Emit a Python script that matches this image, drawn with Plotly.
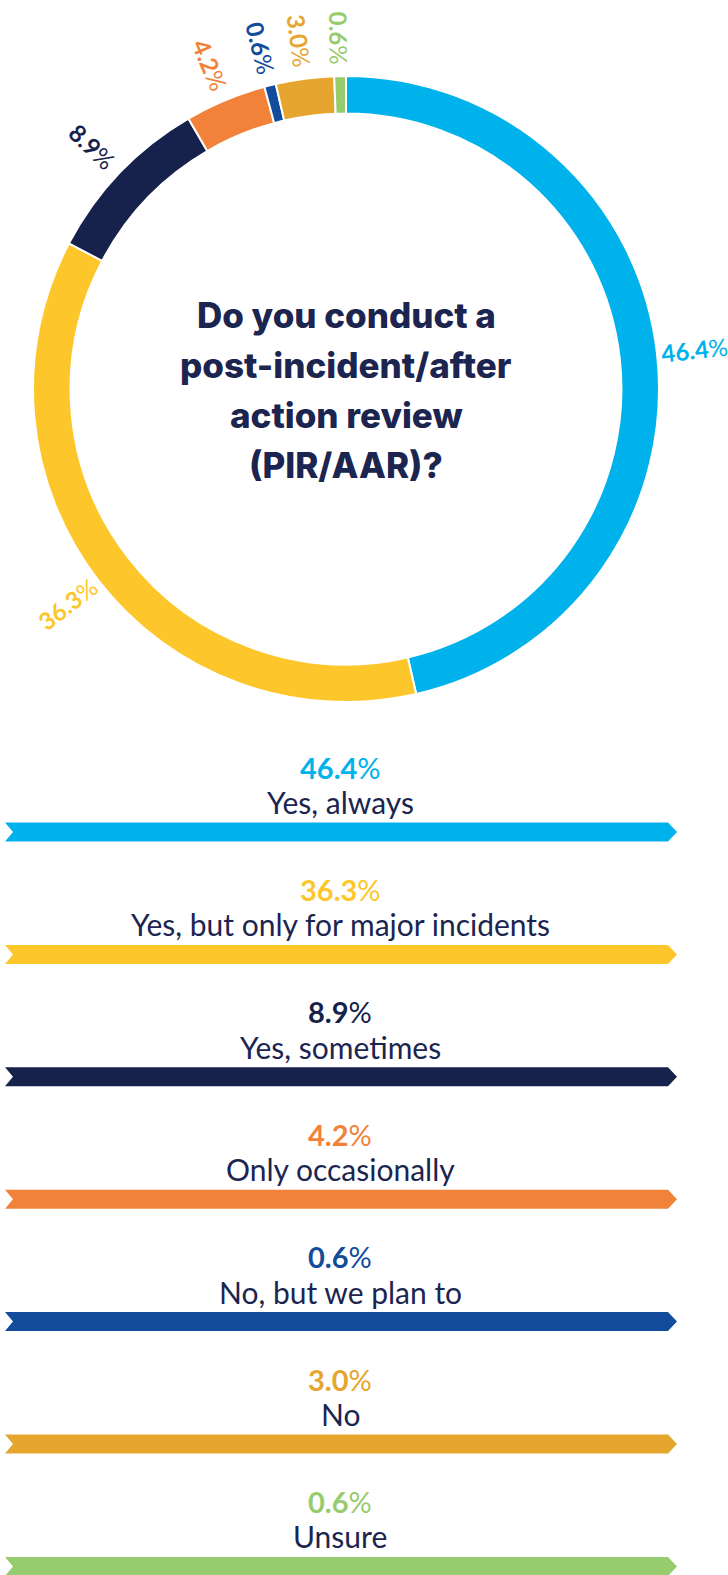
import math
import plotly.graph_objects as go

# Survey answers, in the order they run clockwise round the ring from 12 o'clock
categories = [
    "Yes, always",
    "Yes, but only for major incidents",
    "Yes, sometimes",
    "Only occasionally",
    "No, but we plan to",
    "No",
    "Unsure",
]
shares = [46.4, 36.3, 8.9, 4.2, 0.6, 3.0, 0.6]
colors = ["#00B2EC", "#FDC62A", "#16224B", "#F2823A", "#124C9B", "#E5A52F", "#97CC6E"]
question_lines = ["Do you conduct a", "post-incident/after", "action review", "(PIR/AAR)?"]

# Canvas and layout constants (pixels)
W, H = 728, 1575
CX, CY, R_OUT = 346, 389, 313
HOLE = 0.88
LABEL_R = 351
NAVY = "#1B2550"
TITLE_Y0, TITLE_STEP = 315, 50
ROW0, ROW_STEP = 832, 122.4          # centre of the first arrow bar, distance between rows
BAR_X0, BAR_X1, BAR_H, TIP = 5, 668, 19, 9
TEXT_X = 340
FONT = "Lato, 'Open Sans', sans-serif"

fig = go.Figure()

fig.add_trace(go.Pie(
    values=shares,
    labels=categories,
    sort=False,
    direction="clockwise",
    rotation=0,
    hole=HOLE,
    marker=dict(colors=colors, line=dict(color="white", width=2)),
    textinfo="none",
    hoverinfo="label+percent",
    showlegend=False,
    domain=dict(
        x=[(CX - R_OUT) / W, (CX + R_OUT) / W],
        y=[1 - (CY + R_OUT) / H, 1 - (CY - R_OUT) / H],
    ),
))

annotations = []

# Centre question, one annotation per line
for k, line in enumerate(question_lines):
    annotations.append(dict(
        x=CX, y=TITLE_Y0 + k * TITLE_STEP, xref="x", yref="y", text=line,
        showarrow=False, xanchor="center", yanchor="middle", align="center",
        font=dict(family="Inter, 'Liberation Sans', sans-serif", size=35, weight=800, color=NAVY),
    ))

# Radial percentage labels round the ring
total = sum(shares)
cum = 0.0
for v, c in zip(shares, colors):
    mid = (cum + v / 2) / total * 360.0
    cum += v
    rad = math.radians(mid)
    lx = CX + LABEL_R * math.sin(rad)
    ly = CY - LABEL_R * math.cos(rad)
    angle = mid - 90 if mid < 180 else mid - 270
    annotations.append(dict(
        x=lx, y=ly, xref="x", yref="y", text=f"<b>{v:.1f}</b>%", showarrow=False,
        xanchor="center", yanchor="middle", textangle=angle,
        font=dict(family=FONT, size=24, color=c),
    ))

# Rows: value, answer text and an arrow-shaped bar for each answer
for i, (cat, v, c) in enumerate(zip(categories, shares, colors)):
    yc = ROW0 + i * ROW_STEP
    xs = [BAR_X0, BAR_X1, BAR_X1 + TIP, BAR_X1, BAR_X0, BAR_X0 + TIP - 1, BAR_X0]
    ys = [yc - BAR_H / 2, yc - BAR_H / 2, yc, yc + BAR_H / 2, yc + BAR_H / 2, yc, yc - BAR_H / 2]
    fig.add_trace(go.Scatter(
        x=xs, y=ys, mode="lines", fill="toself", fillcolor=c,
        line=dict(width=0, color=c), hoverinfo="skip", showlegend=False,
    ))
    annotations.append(dict(
        x=TEXT_X, y=yc - 65, xref="x", yref="y", text=f"<b>{v:.1f}</b>%", showarrow=False,
        xanchor="center", yanchor="middle",
        font=dict(family=FONT, size=29, color=c),
    ))
    annotations.append(dict(
        x=TEXT_X, y=yc - 30, xref="x", yref="y", text=cat, showarrow=False,
        xanchor="center", yanchor="middle",
        font=dict(family=FONT, size=30, color=NAVY),
    ))

fig.update_layout(
    width=W, height=H,
    margin=dict(l=0, r=0, t=0, b=0),
    paper_bgcolor="white", plot_bgcolor="rgba(0,0,0,0)",
    annotations=annotations,
    xaxis=dict(range=[0, W], visible=False, fixedrange=True),
    yaxis=dict(range=[H, 0], visible=False, fixedrange=True),
)

fig.write_html("out.html", config={"displayModeBar": False})
